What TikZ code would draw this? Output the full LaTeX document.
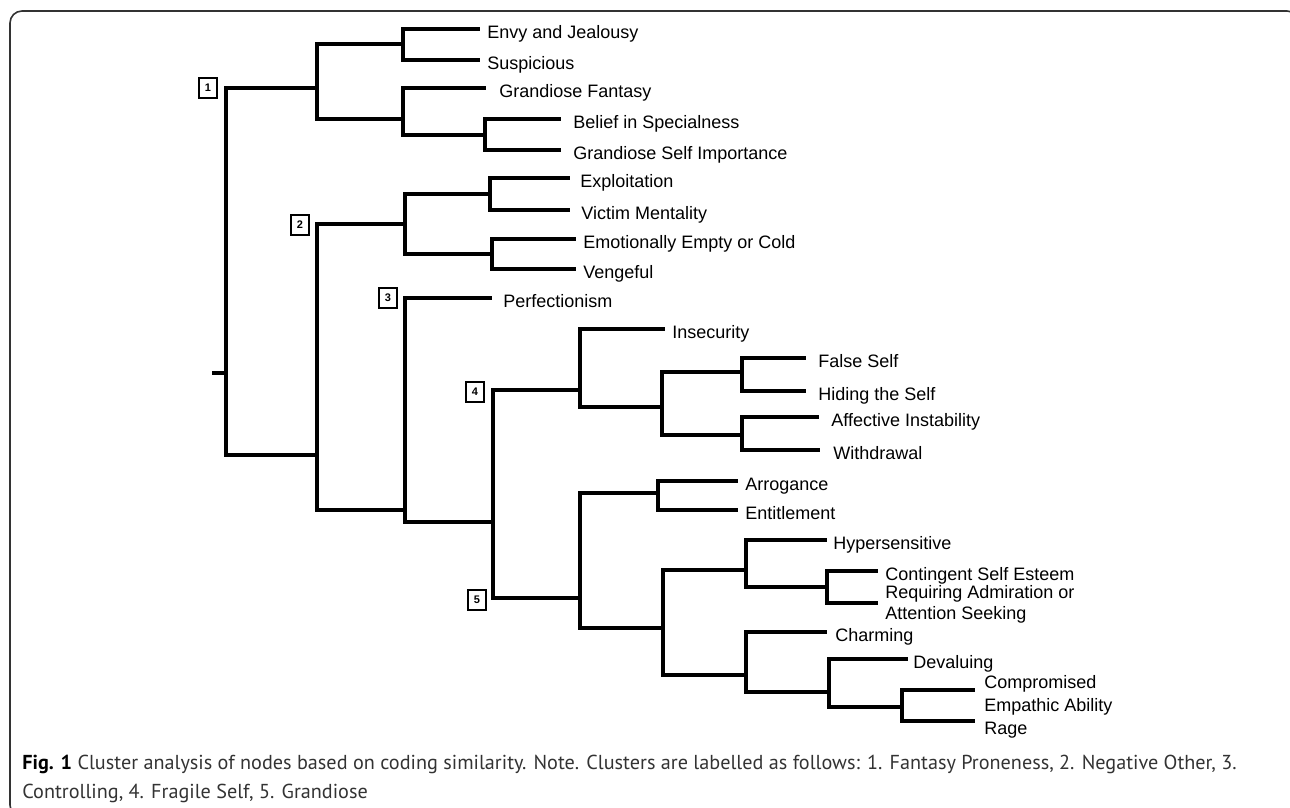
\documentclass[tikz,border=0pt]{standalone}
\usepackage{fontspec}
\setmainfont{Liberation Sans}
\newfontfamily\capfont{PT Sans}
\usetikzlibrary{positioning}
\tikzstyle{branch} = [draw, line width=2.3pt, line join=miter]
\tikzstyle{leaf} = [inner sep=0pt, font=\fontsize{9}{10.5}\selectfont, text height=6.6pt, text depth=1.9pt, yshift=-2.6pt]
\tikzstyle{leaftwo} = [inner sep=0pt, font=\fontsize{9}{10.5}\selectfont, align=left, anchor=north west]
\tikzstyle{clus} = [rectangle, draw, line width=0.6pt, minimum width=9pt, minimum height=10pt, inner sep=0pt, font=\fontsize{5.5}{6}\selectfont\bfseries]
\tikzstyle{frame} = [draw=black!80, line width=0.8pt, rounded corners=6pt]

\begin{document}
\begin{tikzpicture}[x=0.5pt, y=-0.5pt]
    \useasboundingbox (0,0) rectangle (1290,808);
    \path [frame] (10,11) rectangle (1299,817);
    % Joints of the tree
    \coordinate (root) at (212,373);
    \coordinate (n1) at (226,373);
    \coordinate (cA) at (317,88);
    \coordinate (cAa) at (403,44);
    \coordinate (cAb) at (403,119);
    \coordinate (cAc) at (485,135);
    \coordinate (n2) at (317,455);
    \coordinate (cB) at (405,224);
    \coordinate (cBa) at (490,194);
    \coordinate (cBb) at (492,254);
    \coordinate (n3) at (405,510);
    \coordinate (n45) at (493,522);
    \coordinate (c4) at (580,390);
    \coordinate (c4a) at (662,407);
    \coordinate (c4b) at (742,372);
    \coordinate (c4c) at (742,435);
    \coordinate (c5) at (580,598);
    \coordinate (c5a) at (658,493);
    \coordinate (c5b) at (663,628);
    \coordinate (c5c) at (746,570);
    \coordinate (c5e) at (827,587);
    \coordinate (c5d) at (746,675);
    \coordinate (c5f) at (829,692);
    \coordinate (c5g) at (902,707);
    % Ends of the leaves
    \coordinate (envy) at (480,29);
    \coordinate (susp) at (480,60);
    \coordinate (gfan) at (486,88);
    \coordinate (bel) at (561,119);
    \coordinate (gsi) at (561,150);
    \coordinate (expl) at (570,178);
    \coordinate (vict) at (570,210);
    \coordinate (emo) at (576,239);
    \coordinate (veng) at (576,269);
    \coordinate (perf) at (492,298);
    \coordinate (insec) at (665,329);
    \coordinate (fself) at (806,358);
    \coordinate (hide) at (806,391);
    \coordinate (affi) at (819,417);
    \coordinate (withd) at (820,450);
    \coordinate (arro) at (738,481);
    \coordinate (entit) at (738,510);
    \coordinate (hyper) at (827,540);
    \coordinate (cont) at (878,571);
    \coordinate (reqr) at (878,603);
    \coordinate (charm) at (827,632);
    \coordinate (deval) at (908,659);
    \coordinate (comp) at (975,690);
    \coordinate (rage) at (975,721);
    % Place labels
    \node [leaf, right=3.5pt of envy] (lenvy) {Envy and Jealousy};
    \node [leaf, right=3.5pt of susp] (lsusp) {Suspicious};
    \node [leaf, right=6.5pt of gfan] (lgfan) {Grandiose Fantasy};
    \node [leaf, right=6pt of bel] (lbel) {Belief in Specialness};
    \node [leaf, right=6pt of gsi] (lgsi) {Grandiose Self Importance};
    \node [leaf, right=5pt of expl] (lexpl) {Exploitation};
    \node [leaf, right=5.5pt of vict] (lvict) {Victim Mentality};
    \node [leaf, right=3.5pt of emo] (lemo) {Emotionally Empty or Cold};
    \node [leaf, right=3.5pt of veng] (lveng) {Vengeful};
    \node [leaf, right=5.5pt of perf] (lperf) {Perfectionism};
    \node [leaf, right=3.5pt of insec] (linsec) {Insecurity};
    \node [leaf, right=6pt of fself] (lfself) {False Self};
    \node [leaf, right=6pt of hide] (lhide) {Hiding the Self};
    \node [leaf, right=6pt of affi] (laffi) {Affective Instability};
    \node [leaf, right=6.5pt of withd] (lwithd) {Withdrawal};
    \node [leaf, right=3.5pt of arro] (larro) {Arrogance};
    \node [leaf, right=3.5pt of entit] (lentit) {Entitlement};
    \node [leaf, right=3pt of hyper] (lhyper) {Hypersensitive};
    \node [leaf, right=3.5pt of cont] (lcont) {Contingent Self Esteem};
    \node [right=3.5pt of reqr, leaftwo, yshift=8.9pt] (lreqr) {Requiring Admiration or\\Attention Seeking};
    \node [leaf, right=4pt of charm] (lcharm) {Charming};
    \node [leaf, right=2.5pt of deval] (ldeval) {Devaluing};
    \node [right=4.5pt of comp, leaftwo, yshift=7.4pt, font=\fontsize{9}{11.5}\selectfont] (lcomp) {Compromised\\Empathic Ability};
    \node [leaf, right=4.5pt of rage, yshift=-2pt] (lrage) {Rage};
    % Cluster numbers
    \node [clus] (k1) at (208,88) {1};
    \node [clus] (k2) at (300,225) {2};
    \node [clus] (k3) at (388,298) {3};
    \node [clus] (k4) at (475,392) {4};
    \node [clus] (k5) at (477,600) {5};
    % Draw branches
    \path [branch] (root) -- (n1);
    \path [branch] (n1) |- (cA) (n1) |- (n2);
    \path [branch] (cA) |- (cAa) (cA) |- (cAb);
    \path [branch] (cAa) |- (envy) (cAa) |- (susp);
    \path [branch] (cAb) |- (gfan) (cAb) |- (cAc);
    \path [branch] (cAc) |- (bel) (cAc) |- (gsi);
    \path [branch] (n2) |- (cB) (n2) |- (n3);
    \path [branch] (cB) |- (cBa) (cB) |- (cBb);
    \path [branch] (cBa) |- (expl) (cBa) |- (vict);
    \path [branch] (cBb) |- (emo) (cBb) |- (veng);
    \path [branch] (n3) |- (perf) (n3) |- (n45);
    \path [branch] (n45) |- (c4) (n45) |- (c5);
    \path [branch] (c4) |- (insec) (c4) |- (c4a);
    \path [branch] (c4a) |- (c4b) (c4a) |- (c4c);
    \path [branch] (c4b) |- (fself) (c4b) |- (hide);
    \path [branch] (c4c) |- (affi) (c4c) |- (withd);
    \path [branch] (c5) |- (c5a) (c5) |- (c5b);
    \path [branch] (c5a) |- (arro) (c5a) |- (entit);
    \path [branch] (c5b) |- (c5c) (c5b) |- (c5d);
    \path [branch] (c5c) |- (hyper) (c5c) |- (c5e);
    \path [branch] (c5e) |- (cont) (c5e) |- (reqr);
    \path [branch] (c5d) |- (charm) (c5d) |- (c5f);
    \path [branch] (c5f) |- (deval) (c5f) |- (c5g);
    \path [branch] (c5g) |- (comp) (c5g) |- (rage);
    % Caption
    \node [anchor=base west, align=left, inner sep=0pt, text=black!80, font=\capfont\fontsize{10.1}{14.5}\selectfont] (caption) at (22,798) {\textbf{\color{black}Fig. 1} Cluster analysis of nodes based on coding similarity. Note. Clusters are labelled as follows: 1. Fantasy Proneness, 2. Negative Other, 3.\\Controlling, 4. Fragile Self, 5. Grandiose};
\end{tikzpicture}
\end{document}
